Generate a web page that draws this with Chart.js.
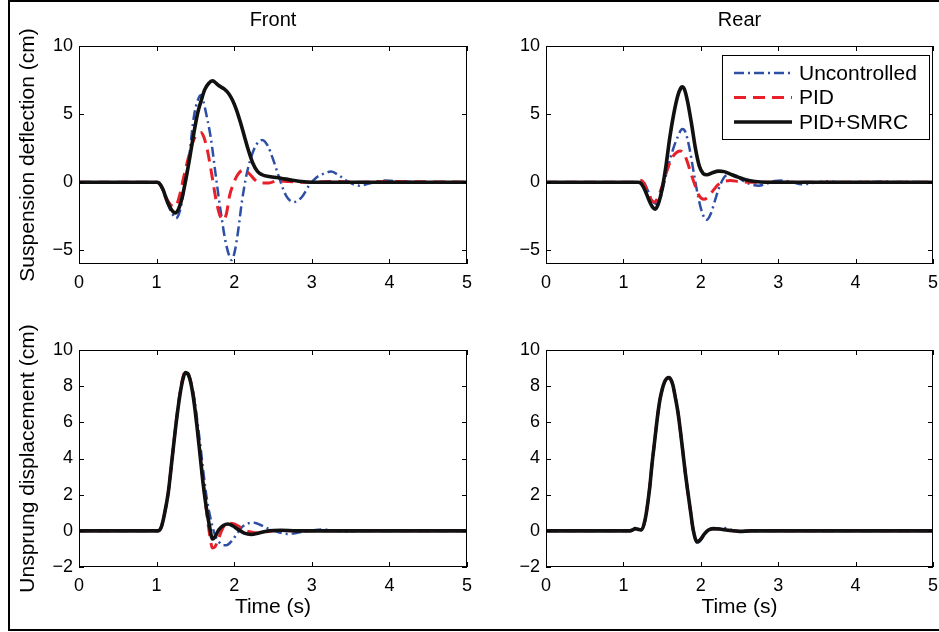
<!DOCTYPE html>
<html lang="en">
<head>
  <meta charset="UTF-8">
  <title>Suspension response</title>
  <script src="https://cdn.jsdelivr.net/npm/chart.js"></script>
  <style>
    body {
      margin: 0;
      background: #fff;
      overflow: hidden;
      font-family: "Liberation Sans", Arial, sans-serif;
    }
    #frame {
      position: absolute;
      left: 8px;
      top: 0;
      width: 1000px;
      height: 631px;
      border: 2px solid #000;
      box-sizing: border-box;
    }
    canvas { position: absolute; }
  </style>
</head>
<body>
  <div id="frame"></div>
  <canvas id="frontDefl" width="468" height="292" style="left:12px;top:2px"></canvas>
  <canvas id="rearDefl" width="460" height="292" style="left:486px;top:2px"></canvas>
  <canvas id="frontUns" width="468" height="308" style="left:12px;top:320px"></canvas>
  <canvas id="rearUns" width="460" height="308" style="left:486px;top:320px"></canvas>

  <script>
    // series names
    const seriesLabels = ['Uncontrolled', 'PID', 'PID+SMRC'];
    const xTicks = [0, 1, 2, 3, 4, 5];

    // [time (s), value (cm)]
    const frontDeflUnc = [[0,0],[1.0,0],[1.06,-0.3],[1.13,-1.4],[1.2,-2.3],[1.25,-2.65],[1.3,-2.1],[1.36,-0.3],[1.42,1.9],[1.48,4.8],[1.53,6.0],[1.57,6.4],[1.6,6.0],[1.64,5.0],[1.7,3.2],[1.76,0.6],[1.83,-2.3],[1.89,-4.4],[1.95,-5.6],[1.97,-5.7],[2.01,-5.0],[2.05,-3.6],[2.1,-1.4],[2.15,0.3],[2.2,1.5],[2.28,2.7],[2.36,3.1],[2.43,2.7],[2.5,1.7],[2.57,0.5],[2.67,-1.0],[2.77,-1.45],[2.87,-1.1],[2.97,-0.2],[3.06,0.35],[3.14,0.6],[3.25,0.78],[3.35,0.5],[3.48,0],[3.61,-0.25],[3.74,-0.1],[3.95,0.12],[4.2,0.05],[4.5,0],[5,0]];
    const frontDeflPid = [[0,0],[1.0,0],[1.06,-0.3],[1.13,-1.2],[1.2,-1.75],[1.24,-1.8],[1.29,-1.1],[1.35,0.4],[1.41,1.8],[1.47,3.0],[1.53,3.55],[1.57,3.65],[1.61,3.3],[1.66,2.2],[1.71,0.6],[1.77,-1.4],[1.82,-2.5],[1.86,-2.75],[1.9,-2.3],[1.94,-1.0],[1.99,-0.1],[2.05,0.6],[2.12,0.9],[2.2,0.6],[2.27,0.15],[2.34,-0.05],[2.45,-0.05],[2.55,0.1],[2.7,0.05],[2.9,0],[3.3,0.05],[3.6,0],[4.0,0.05],[5,0]];
    const frontDeflSmrc = [[0,0],[1.0,0],[1.03,-0.05],[1.08,-0.5],[1.13,-1.3],[1.19,-2.0],[1.24,-2.25],[1.28,-2.0],[1.33,-1.1],[1.38,0.3],[1.43,1.9],[1.48,3.6],[1.53,5.1],[1.58,6.1],[1.62,6.8],[1.67,7.25],[1.72,7.45],[1.75,7.35],[1.8,7.1],[1.87,6.85],[1.93,6.5],[1.98,6.0],[2.03,5.3],[2.08,4.4],[2.13,3.4],[2.18,2.4],[2.24,1.4],[2.3,0.8],[2.36,0.55],[2.45,0.42],[2.6,0.3],[2.75,0.15],[2.9,0.04],[3.05,0],[5,0]];

    const rearDeflUnc = [[0,0],[1.2,0],[1.25,0.1],[1.3,-0.4],[1.36,-1.2],[1.42,-1.6],[1.47,-1.3],[1.52,-0.2],[1.58,1.2],[1.64,2.4],[1.7,3.3],[1.76,3.9],[1.8,3.7],[1.85,2.6],[1.9,1.0],[1.95,-0.6],[2.0,-1.9],[2.05,-2.65],[2.08,-2.75],[2.13,-2.3],[2.18,-1.4],[2.23,-0.5],[2.3,0.35],[2.38,0.6],[2.45,0.5],[2.55,0.1],[2.65,-0.15],[2.75,-0.25],[2.85,-0.1],[2.95,0.1],[3.05,0.12],[3.18,0],[3.3,-0.15],[3.45,-0.05],[3.6,0.05],[3.9,0],[4.3,0.03],[5,0]];
    const rearDeflPid = [[0,0],[1.17,0],[1.21,0.15],[1.25,0.05],[1.3,-0.5],[1.35,-1.2],[1.4,-1.45],[1.44,-1.2],[1.5,-0.3],[1.56,0.8],[1.62,1.7],[1.68,2.15],[1.73,2.3],[1.77,2.2],[1.82,1.6],[1.87,0.7],[1.93,-0.3],[1.98,-1.0],[2.04,-1.25],[2.1,-1.05],[2.16,-0.6],[2.22,-0.2],[2.3,0.05],[2.38,0.12],[2.5,0.05],[2.65,0],[5,0]];
    const rearDeflSmrc = [[0,0],[1.19,0],[1.23,-0.1],[1.28,-0.6],[1.33,-1.3],[1.38,-1.85],[1.41,-1.97],[1.45,-1.6],[1.5,-0.5],[1.55,1.2],[1.6,3.3],[1.65,5.0],[1.7,6.3],[1.74,6.9],[1.76,7.0],[1.79,6.8],[1.83,5.9],[1.88,4.3],[1.93,2.5],[1.98,1.2],[2.03,0.65],[2.08,0.55],[2.15,0.7],[2.23,0.82],[2.3,0.78],[2.38,0.6],[2.48,0.38],[2.58,0.18],[2.7,0.05],[2.85,0],[5,0]];

    const frontUnsUnc = [[0,0],[1.02,0],[1.06,0.2],[1.1,0.9],[1.15,2.1],[1.2,4.0],[1.25,5.9],[1.3,7.5],[1.34,8.4],[1.37,8.7],[1.41,8.6],[1.45,8.1],[1.49,7.2],[1.53,5.9],[1.57,4.5],[1.61,3.0],[1.65,1.7],[1.7,0.6],[1.75,-0.2],[1.8,-0.6],[1.86,-0.8],[1.9,-0.8],[1.96,-0.6],[2.03,-0.2],[2.1,0.2],[2.18,0.42],[2.26,0.45],[2.35,0.3],[2.45,0.1],[2.55,-0.05],[2.68,-0.17],[2.8,-0.12],[2.92,-0.02],[3.05,0.05],[3.15,0.07],[3.3,0],[3.45,-0.04],[3.6,0],[5,0]];
    const frontUnsPid = [[0,0],[1.02,0],[1.06,0.2],[1.1,0.9],[1.15,2.1],[1.2,4.0],[1.25,5.95],[1.3,7.6],[1.34,8.5],[1.37,8.85],[1.4,8.75],[1.44,8.25],[1.48,7.3],[1.52,5.9],[1.56,4.3],[1.6,2.7],[1.64,1.2],[1.68,-0.1],[1.72,-0.95],[1.75,-0.9],[1.8,-0.4],[1.86,0.2],[1.93,0.42],[1.99,0.4],[2.06,0.25],[2.13,0.05],[2.2,-0.05],[2.3,-0.12],[2.42,-0.05],[2.55,0.02],[2.8,0],[5,0]];
    const frontUnsSmrc = [[0,0],[1.02,0],[1.06,0.2],[1.1,0.9],[1.15,2.1],[1.2,4.0],[1.25,5.9],[1.3,7.5],[1.34,8.4],[1.37,8.75],[1.4,8.7],[1.44,8.2],[1.48,7.2],[1.52,5.8],[1.56,4.2],[1.6,2.6],[1.64,1.3],[1.68,0.3],[1.72,-0.45],[1.75,-0.35],[1.8,0.05],[1.86,0.3],[1.92,0.38],[1.98,0.28],[2.05,0.08],[2.13,-0.13],[2.22,-0.2],[2.32,-0.12],[2.45,0],[2.6,0.03],[2.8,0],[5,0]];

    const rearUnsUnc = [[0,0],[1.08,0],[1.12,0.05],[1.15,0.12],[1.19,0.08],[1.23,0.05],[1.28,0.6],[1.34,2.4],[1.37,3.7],[1.405,5.0],[1.44,6.3],[1.47,7.2],[1.5,7.8],[1.533,8.24],[1.56,8.42],[1.59,8.47],[1.62,8.3],[1.64,8.05],[1.67,7.4],[1.705,6.55],[1.74,5.4],[1.77,4.3],[1.8,3.2],[1.834,2.1],[1.87,1.0],[1.9,0.05],[1.93,-0.5],[1.95,-0.65],[1.98,-0.6],[2.01,-0.45],[2.05,-0.2],[2.1,0.0],[2.16,0.1],[2.24,0.12],[2.32,0.15],[2.4,0.05],[2.5,-0.03],[2.65,0],[5,0]];
    const rearUnsPid = [[0,0],[1.08,0],[1.12,0.05],[1.15,0.12],[1.19,0.08],[1.23,0.05],[1.28,0.6],[1.34,2.4],[1.37,3.7],[1.405,5.0],[1.44,6.3],[1.47,7.2],[1.5,7.8],[1.533,8.24],[1.56,8.42],[1.59,8.47],[1.62,8.3],[1.64,8.05],[1.67,7.4],[1.705,6.55],[1.74,5.4],[1.77,4.3],[1.8,3.2],[1.834,2.1],[1.87,1.0],[1.9,0.1],[1.93,-0.45],[1.95,-0.6],[1.98,-0.55],[2.01,-0.4],[2.05,-0.15],[2.1,0.05],[2.16,0.12],[2.24,0.1],[2.35,0.03],[2.5,-0.03],[2.65,0],[5,0]];
    const rearUnsSmrc = [[0,0],[1.08,0],[1.12,0.05],[1.15,0.12],[1.19,0.08],[1.23,0.05],[1.28,0.6],[1.34,2.4],[1.37,3.7],[1.405,5.0],[1.44,6.3],[1.47,7.2],[1.5,7.8],[1.533,8.24],[1.56,8.42],[1.59,8.47],[1.62,8.3],[1.64,8.05],[1.67,7.4],[1.705,6.55],[1.74,5.4],[1.77,4.3],[1.8,3.2],[1.834,2.1],[1.87,1.0],[1.9,0.1],[1.93,-0.45],[1.95,-0.6],[1.98,-0.55],[2.01,-0.4],[2.05,-0.15],[2.1,0.05],[2.16,0.12],[2.24,0.1],[2.35,0.03],[2.5,-0.03],[2.65,0],[5,0]];

    const FONT = '"Liberation Sans", Arial, Helvetica, sans-serif';
    Chart.defaults.font.family = FONT;
    Chart.defaults.color = '#000';

    const styles = [
      { borderColor: '#2e4fa6', borderWidth: 2.5, borderDash: [10, 4, 2, 4], order: 2 },
      { borderColor: '#e8202a', borderWidth: 3, borderDash: [12, 7], order: 1 },
      { borderColor: '#111111', borderWidth: 3.6, borderDash: [], order: 0 }
    ];

    const minus = v => String(v).replace('-', '\u2212');

    // box around the axes with small inward ticks on all four sides
    const matlabBox = {
      id: 'matlabBox',
      afterDraw(chart) {
        const { ctx, chartArea: a, scales: { x, y } } = chart;
        const len = 5;
        ctx.save();
        ctx.strokeStyle = '#000';
        ctx.lineWidth = 1;
        ctx.setLineDash([]);
        ctx.strokeRect(a.left + 0.5, a.top + 0.5, a.right - a.left - 1, a.bottom - a.top - 1);
        ctx.beginPath();
        x.ticks.forEach(t => {
          const px = Math.round(x.getPixelForValue(t.value)) + 0.5;
          ctx.moveTo(px, a.bottom); ctx.lineTo(px, a.bottom - len);
          ctx.moveTo(px, a.top); ctx.lineTo(px, a.top + len);
        });
        y.ticks.forEach(t => {
          const py = Math.round(y.getPixelForValue(t.value)) + 0.5;
          ctx.moveTo(a.left, py); ctx.lineTo(a.left + len, py);
          ctx.moveTo(a.right, py); ctx.lineTo(a.right - len, py);
        });
        ctx.stroke();
        ctx.restore();
      }
    };

    // boxed legend inside the top-right of the plot area
    const boxLegend = {
      id: 'boxLegend',
      afterDraw(chart, args, o) {
        if (!o || !o.show) return;
        const { ctx, chartArea: a } = chart;
        const left = a.right - o.right - o.width;
        const top = a.top + o.top;
        ctx.save();
        ctx.fillStyle = '#fff';
        ctx.fillRect(left, top, o.width, o.height);
        ctx.strokeStyle = '#000';
        ctx.lineWidth = 1;
        ctx.strokeRect(left + 0.5, top + 0.5, o.width, o.height);
        ctx.font = '21px ' + FONT;
        ctx.textBaseline = 'middle';
        chart.data.datasets.forEach((ds, i) => {
          const cy = top + o.firstRow + i * o.rowGap;
          ctx.strokeStyle = ds.borderColor;
          ctx.lineWidth = ds.borderWidth;
          ctx.setLineDash(ds.borderDash);
          ctx.beginPath();
          ctx.moveTo(left + o.lineStart, cy);
          ctx.lineTo(left + o.lineEnd, cy);
          ctx.stroke();
          ctx.setLineDash([]);
          ctx.fillStyle = '#000';
          ctx.fillText(ds.label, left + o.textStart, cy + 1);
        });
        ctx.restore();
      }
    };

    function panel(id, series, cfg) {
      const datasets = series.map((pts, i) => Object.assign({
        label: seriesLabels[i],
        data: pts.map(p => ({ x: p[0], y: p[1] })),
        pointRadius: 0,
        fill: false,
        cubicInterpolationMode: 'monotone'
      }, styles[i]));

      return new Chart(document.getElementById(id), {
        type: 'line',
        data: { datasets },
        plugins: [matlabBox, boxLegend],
        options: {
          responsive: false,
          devicePixelRatio: 1,
          animation: false,
          layout: { padding: { left: 0, right: 12, top: cfg.padTop, bottom: 0 } },
          scales: {
            x: {
              type: 'linear',
              min: 0,
              max: 5,
              afterBuildTicks: s => { s.ticks = xTicks.map(v => ({ value: v })); },
              ticks: { font: { size: 18 }, padding: 8, color: '#000', maxRotation: 0 },
              grid: { display: false, drawTicks: false },
              border: { display: false },
              title: {
                display: !!cfg.xTitle,
                text: cfg.xTitle || '',
                font: { size: 21 },
                color: '#000',
                padding: { top: 0, bottom: 8.4 }
              },
              afterFit: s => { s.height = cfg.xHeight; }
            },
            y: {
              type: 'linear',
              min: cfg.yMin,
              max: cfg.yMax,
              ticks: {
                stepSize: cfg.yStep,
                includeBounds: false,
                font: { size: 18 },
                padding: 6,
                color: '#000',
                callback: minus
              },
              grid: { display: false, drawTicks: false },
              border: { display: false },
              title: {
                display: !!cfg.yTitle,
                text: cfg.yTitle || '',
                font: { size: 21 },
                color: '#000',
                padding: { top: 3.4, bottom: 0 }
              },
              afterFit: s => { s.width = cfg.yWidth; }
            }
          },
          plugins: {
            legend: { display: false },
            tooltip: { enabled: false },
            title: {
              display: !!cfg.title,
              text: cfg.title || '',
              fullSize: false,
              color: '#000',
              font: { size: 20, weight: 'normal' },
              padding: { top: 6, bottom: 14 }
            },
            boxLegend: {
              show: !!cfg.legend,
              width: 207, height: 84, right: 4, top: 9,
              firstRow: 18, rowGap: 24.5,
              lineStart: 12, lineEnd: 70, textStart: 77
            }
          }
        }
      });
    }

    panel('frontDefl', [frontDeflUnc, frontDeflPid, frontDeflSmrc], {
      title: 'Front', yTitle: 'Suspension deflection (cm)',
      yMin: -6, yMax: 10, yStep: 5, yWidth: 67, xHeight: 30, padTop: 0
    });
    panel('rearDefl', [rearDeflUnc, rearDeflPid, rearDeflSmrc], {
      title: 'Rear', legend: true,
      yMin: -6, yMax: 10, yStep: 5, yWidth: 60, xHeight: 30, padTop: 0
    });
    panel('frontUns', [frontUnsUnc, frontUnsPid, frontUnsSmrc], {
      yTitle: 'Unsprung displacement (cm)', xTitle: 'Time (s)',
      yMin: -2, yMax: 10, yStep: 2, yWidth: 67, xHeight: 61, padTop: 30
    });
    panel('rearUns', [rearUnsUnc, rearUnsPid, rearUnsSmrc], {
      xTitle: 'Time (s)',
      yMin: -2, yMax: 10, yStep: 2, yWidth: 60, xHeight: 61, padTop: 30
    });
  </script>
</body>
</html>
